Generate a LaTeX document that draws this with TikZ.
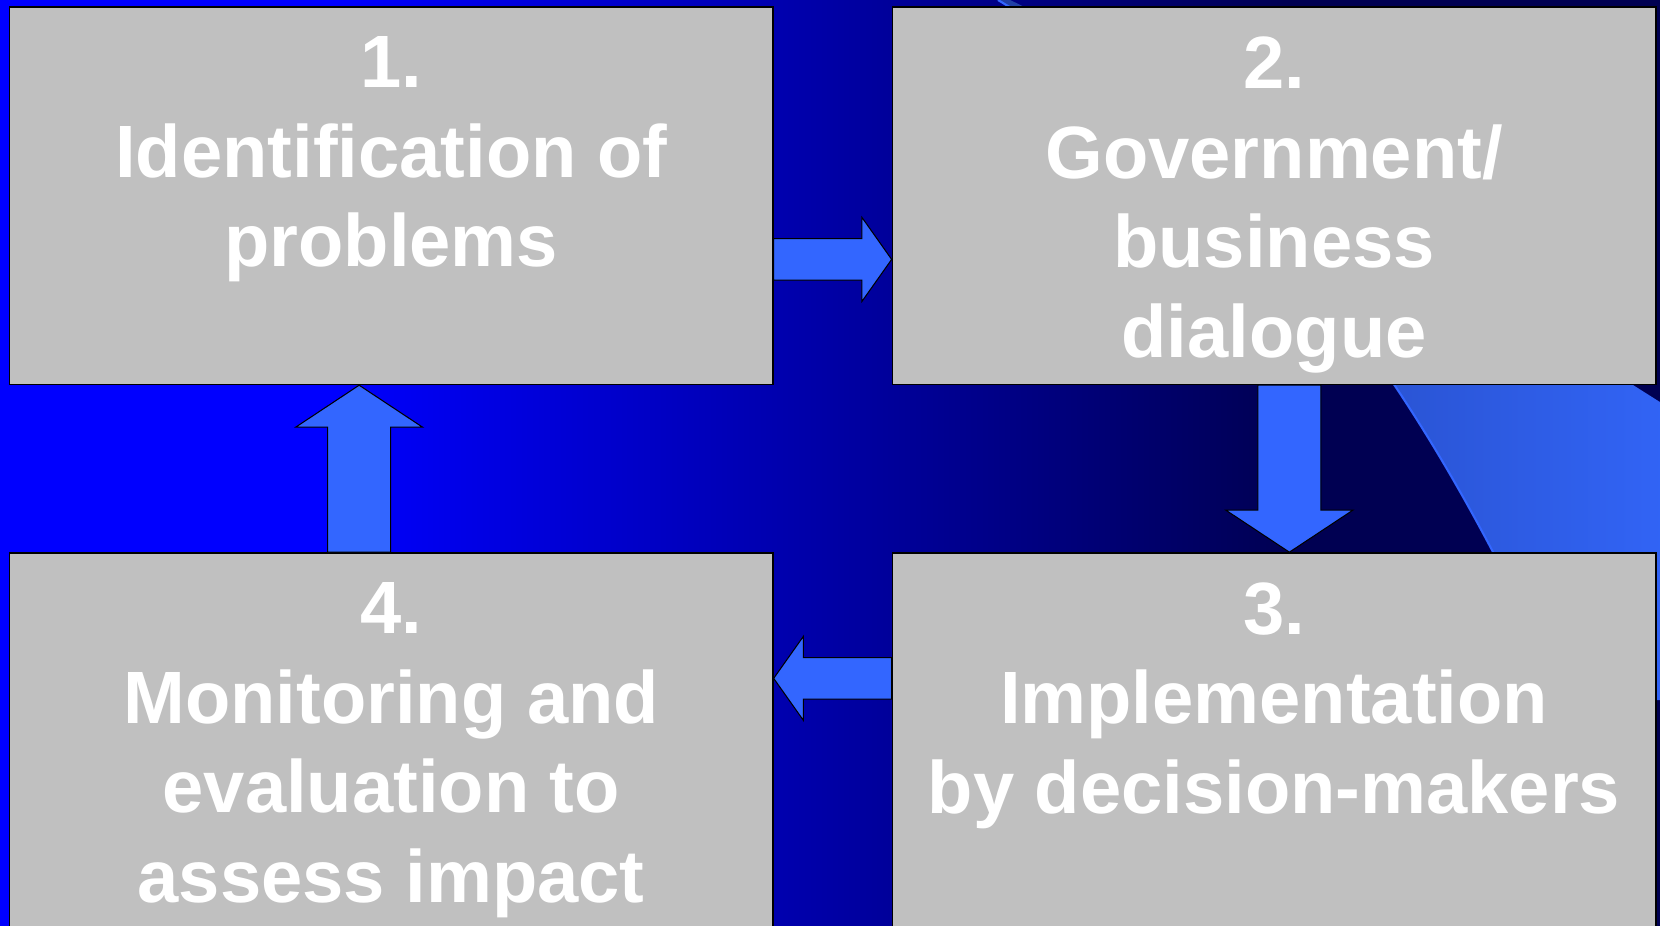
\documentclass[tikz,border=0pt]{standalone}
\usepackage{fontspec}
\newfontfamily\boxfont{Liberation Sans}
\usetikzlibrary{positioning,calc}

\definecolor{bgblue}{RGB}{0,0,255}
\definecolor{bgnavy}{RGB}{0,0,82}
\definecolor{swooshdark}{RGB}{32,62,165}
\definecolor{swooshlight}{RGB}{51,103,252}
\definecolor{arrowblue}{RGB}{51,102,255}
\definecolor{boxgray}{RGB}{192,192,192}

\begin{document}
\begin{tikzpicture}[x=0.02cm, y=-0.02cm,
		stepbox/.style={draw=black, line width=0.85pt, fill=boxgray, minimum width=15.27cm, minimum height=7.55cm, inner sep=0pt},
		steptext/.style={anchor=north, inner sep=0pt, align=center, text=white, font=\boxfont\bfseries\fontsize{42.2}{51}\selectfont},
		blockarrow/.style n args={3}{draw=black, line width=0.6pt, fill=arrowblue, to path={
				($(\tikztostart)!#1!90:(\tikztotarget)$) -- ($(\tikztotarget)!#3!(\tikztostart)!#1!90:(\tikztotarget)$)
				-- ($(\tikztotarget)!#3!(\tikztostart)!#2!90:(\tikztotarget)$) -- (\tikztotarget)
				-- ($(\tikztotarget)!#3!(\tikztostart)!#2!-90:(\tikztotarget)$) -- ($(\tikztotarget)!#3!(\tikztostart)!#1!-90:(\tikztotarget)$)
				-- ($(\tikztostart)!#1!-90:(\tikztotarget)$) -- cycle}}
	]
	\path[use as bounding box, clip] (0,0) rectangle (1660,926);
	% background and swoosh
	\fill[bgnavy] (0,0) rectangle (1660,926);
	\fill[bgblue] (0,0) rectangle (331,926);
	\shade[left color=bgblue, right color=bgnavy] (330,0) rectangle (1290,926);
	\shade[left color=swooshdark, right color=swooshlight] (998,0) .. controls (1248,150) and (1393,362) .. (1493,552) -- (1560,700) -- (1720,700) -- (1720,440) -- (1633,385) .. controls (1450,270) and (1200,90) .. (1010,0) -- cycle;
	\draw[arrowblue, line width=1.2pt] (998,0) .. controls (1248,150) and (1393,362) .. (1493,552) -- (1560,700);
	% the four steps
	\node[stepbox] (b1) at (391.25,195.75) {};
	\node[stepbox, right=2.36cm of b1] (b2) {};
	\node[stepbox, below=3.34cm of b1] (b4) {};
	\node[stepbox, right=2.36cm of b4] (b3) {};
	\node[steptext] (t1) at ([yshift=-0.6cm]b1.north) {1.\\Identification of\\problems};
	\node[steptext] (t2) at ([yshift=-0.6cm]b2.north) {2.\\Government/\\business\\dialogue};
	\node[steptext] (t3) at ([yshift=-0.6cm]b3.north) {3.\\Implementation\\by decision-makers};
	\node[steptext] (t4) at ([yshift=-0.6cm]b4.north) {4.\\Monitoring and\\evaluation to\\assess impact};
	% arrow ends
	\coordinate (a12s) at ($(b1.north east)!.668!(b1.south east)$);
	\coordinate (a12e) at ($(b2.north west)!.668!(b2.south west)$);
	\coordinate (a23s) at ($(b2.south west)!.52!(b2.south east)$);
	\coordinate (a23e) at (a23s |- b3.north);
	\coordinate (a34s) at ($(b3.north west)!.333!(b3.south west)$);
	\coordinate (a34e) at (a34s -| b4.east);
	\coordinate (a41s) at ($(b4.north west)!.458!(b4.north east)$);
	\coordinate (a41e) at (a41s |- b1.south);
	\draw[blockarrow={0.414cm}{0.84cm}{0.594cm}] (a12s) to (a12e);
	\draw[blockarrow={0.63cm}{1.27cm}{0.84cm}] (a23s) to (a23e);
	\draw[blockarrow={0.414cm}{0.84cm}{0.594cm}] (a34s) to (a34e);
	\draw[blockarrow={0.63cm}{1.27cm}{0.84cm}] (a41s) to (a41e);
\end{tikzpicture}
\end{document}
